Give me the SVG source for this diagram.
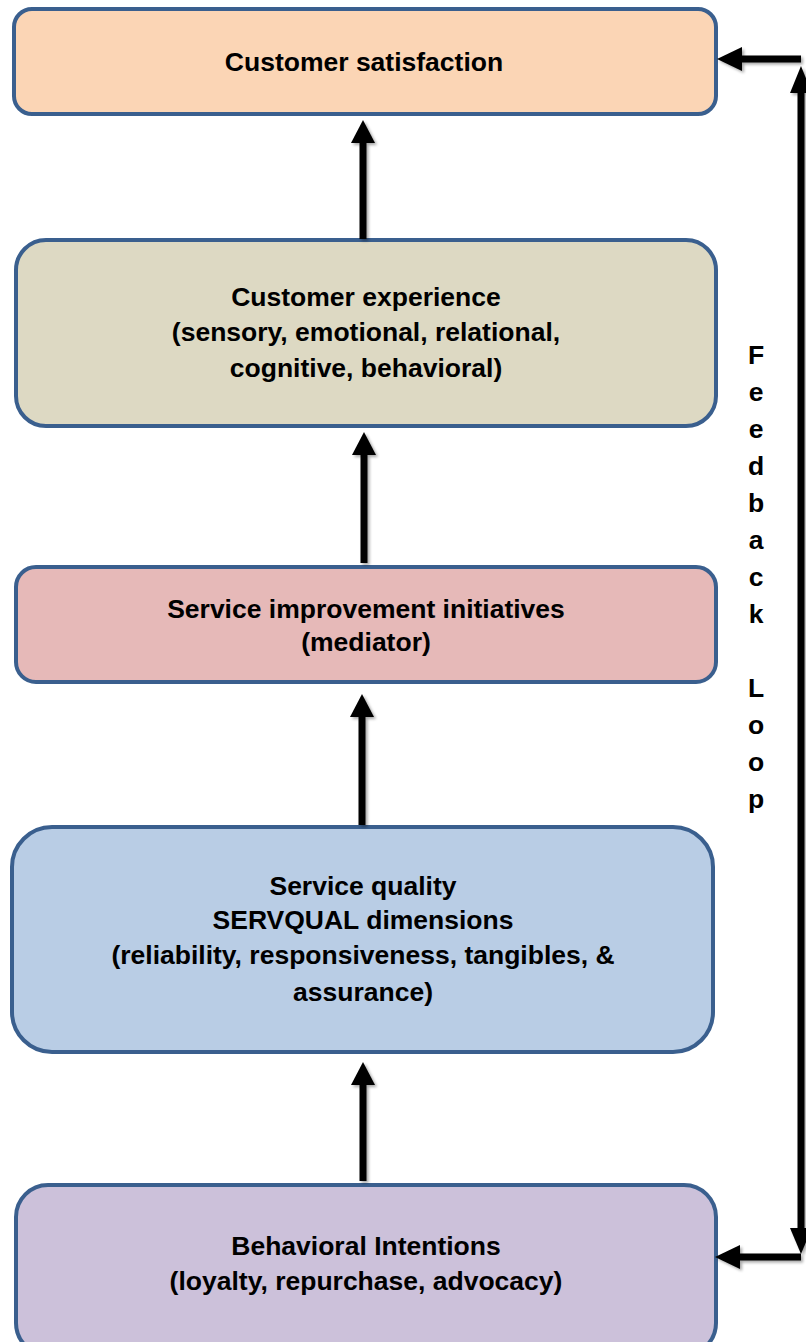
<svg xmlns="http://www.w3.org/2000/svg" width="806" height="1342" viewBox="0 0 806 1342">
  <defs>
    <filter id="shadow" x="-20%" y="-5%" width="140%" height="110%">
      <feGaussianBlur in="SourceAlpha" stdDeviation="1.5"/>
      <feOffset dx="2" dy="2" result="b"/>
      <feComponentTransfer><feFuncA type="linear" slope="0.35"/></feComponentTransfer>
      <feMerge><feMergeNode/><feMergeNode in="SourceGraphic"/></feMerge>
    </filter>
  </defs>
  <style>
    .box { stroke: #3A5F8E; stroke-width: 4; }
    .lbl { font-family: "Liberation Sans", Arial, sans-serif; font-weight: bold; font-size: 26.5px; fill: #000; text-anchor: middle; }
    .shaft { stroke: #000; stroke-width: 7; fill: none; }
    .head { fill: #000; }
  </style>

  <rect width="806" height="1342" fill="#FFFFFF"/>

  <!-- Nodes -->
  <g id="customer-satisfaction">
    <rect class="box" x="14" y="9" width="702" height="105" rx="18" fill="#FBD5B5"/>
    <text class="lbl" x="364" y="71">Customer satisfaction</text>
  </g>

  <g id="customer-experience">
    <rect class="box" x="16" y="240" width="700" height="186" rx="30" fill="#DDD9C3"/>
    <text class="lbl" x="366" y="306">Customer experience</text>
    <text class="lbl" x="366" y="341">(sensory, emotional, relational,</text>
    <text class="lbl" x="366" y="377">cognitive, behavioral)</text>
  </g>

  <g id="service-improvement">
    <rect class="box" x="16" y="567" width="700" height="115" rx="20" fill="#E6B9B8"/>
    <text class="lbl" x="366" y="618">Service improvement initiatives</text>
    <text class="lbl" x="366" y="651">(mediator)</text>
  </g>

  <g id="service-quality">
    <rect class="box" x="12" y="827" width="701" height="225" rx="40" fill="#B9CDE5"/>
    <text class="lbl" x="363" y="895">Service quality</text>
    <text class="lbl" x="363" y="929">SERVQUAL dimensions</text>
    <text class="lbl" x="363" y="964">(reliability, responsiveness, tangibles, &amp;</text>
    <text class="lbl" x="363" y="1001">assurance)</text>
  </g>

  <g id="behavioral-intentions">
    <rect class="box" x="16" y="1185" width="700" height="170" rx="32" fill="#CCC1DA"/>
    <text class="lbl" x="366" y="1255">Behavioral Intentions</text>
    <text class="lbl" x="366" y="1290">(loyalty, repurchase, advocacy)</text>
  </g>

  <!-- Connectors -->
  <g id="connectors" filter="url(#shadow)">
    <line class="shaft" x1="363" y1="239" x2="363" y2="140"/>
    <polygon class="head" points="363,120 375,143 351,143"/>

    <line class="shaft" x1="364" y1="563" x2="364" y2="452"/>
    <polygon class="head" points="364,432 376,455 352,455"/>

    <line class="shaft" x1="362" y1="825" x2="362" y2="714"/>
    <polygon class="head" points="362,694 374,717 350,717"/>

    <line class="shaft" x1="363" y1="1181" x2="363" y2="1082"/>
    <polygon class="head" points="363,1062 375,1085 351,1085"/>

    <!-- feedback loop -->
    <line class="shaft" x1="801" y1="59" x2="738" y2="59"/>
    <polygon class="head" points="717,59 742,47 742,71"/>
    <line class="shaft" x1="801" y1="1257" x2="736" y2="1257"/>
    <polygon class="head" points="715,1257 740,1245 740,1269"/>
    <line class="shaft" x1="801" y1="88" x2="801" y2="1234"/>
    <polygon class="head" points="801,66 812,93 790,93"/>
    <polygon class="head" points="801,1254 812,1228 790,1228"/>
  </g>

  <g id="feedback-label">
    <text class="lbl" x="756" y="364">F</text>
    <text class="lbl" x="756" y="401">e</text>
    <text class="lbl" x="756" y="438">e</text>
    <text class="lbl" x="756" y="475">d</text>
    <text class="lbl" x="756" y="512">b</text>
    <text class="lbl" x="756" y="549">a</text>
    <text class="lbl" x="756" y="586">c</text>
    <text class="lbl" x="756" y="623">k</text>
    <text class="lbl" x="756" y="697">L</text>
    <text class="lbl" x="756" y="734">o</text>
    <text class="lbl" x="756" y="771">o</text>
    <text class="lbl" x="756" y="808">p</text>
  </g>
</svg>
